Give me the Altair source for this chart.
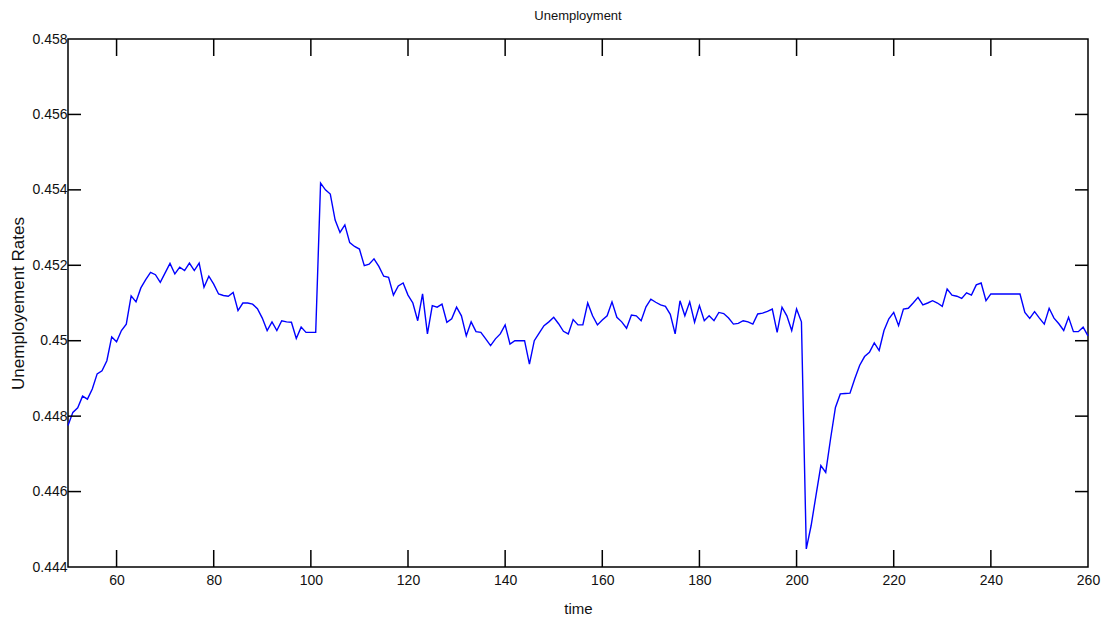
import altair as alt
import pandas as pd

# Simulated unemployment rate, one value per period
time = list(range(50, 261))
rate = [
    0.44775, 0.44810, 0.44822, 0.44853, 0.44845, 0.44872, 0.44912, 0.44920, 0.44947, 0.45010,  # 50-59
    0.44997, 0.45027, 0.45044, 0.45119, 0.45103, 0.45140, 0.45162, 0.45181, 0.45175, 0.45155,  # 60-69
    0.45180, 0.45205, 0.45177, 0.45195, 0.45186, 0.45206, 0.45186, 0.45206, 0.45142, 0.45171,  # 70-79
    0.45150, 0.45124, 0.45120, 0.45118, 0.45128, 0.45080, 0.45100, 0.45100, 0.45097, 0.45085,  # 80-89
    0.45060, 0.45027, 0.45050, 0.45027, 0.45053, 0.45050, 0.45049, 0.45006, 0.45036, 0.45022,  # 90-99
    0.45022, 0.45022, 0.45418, 0.45400, 0.45389, 0.45320, 0.45287, 0.45307, 0.45260, 0.45250,  # 100-109
    0.45243, 0.45199, 0.45203, 0.45217, 0.45197, 0.45171, 0.45168, 0.45121, 0.45145, 0.45153,  # 110-119
    0.45121, 0.45100, 0.45053, 0.45124, 0.45018, 0.45093, 0.45089, 0.45097, 0.45049, 0.45058,  # 120-129
    0.45089, 0.45066, 0.45013, 0.45050, 0.45024, 0.45022, 0.45005, 0.44987, 0.45005, 0.45018,  # 130-139
    0.45042, 0.44991, 0.45000, 0.45000, 0.45000, 0.44938, 0.45000, 0.45020, 0.45040, 0.45050,  # 140-149
    0.45062, 0.45045, 0.45025, 0.45018, 0.45056, 0.45042, 0.45042, 0.45100, 0.45066, 0.45042,  # 150-159
    0.45055, 0.45066, 0.45103, 0.45062, 0.45050, 0.45033, 0.45068, 0.45066, 0.45053, 0.45090,  # 160-169
    0.45110, 0.45102, 0.45095, 0.45091, 0.45070, 0.45018, 0.45106, 0.45066, 0.45103, 0.45049,  # 170-179
    0.45093, 0.45053, 0.45066, 0.45053, 0.45075, 0.45072, 0.45060, 0.45044, 0.45046, 0.45053,  # 180-189
    0.45050, 0.45044, 0.45071, 0.45073, 0.45078, 0.45084, 0.45022, 0.45089, 0.45066, 0.45027,  # 190-199
    0.45084, 0.45050, 0.44448, 0.44510, 0.44590, 0.44669, 0.44651, 0.44740, 0.44823, 0.44859,  # 200-209
    0.44860, 0.44861, 0.44900, 0.44935, 0.44958, 0.44969, 0.44994, 0.44974, 0.45027, 0.45058,  # 210-219
    0.45075, 0.45040, 0.45084, 0.45086, 0.45100, 0.45115, 0.45095, 0.45100, 0.45106, 0.45100,  # 220-229
    0.45091, 0.45137, 0.45121, 0.45118, 0.45112, 0.45127, 0.45121, 0.45148, 0.45153, 0.45106,  # 230-239
    0.45124, 0.45124, 0.45124, 0.45124, 0.45124, 0.45124, 0.45124, 0.45075, 0.45059, 0.45077,  # 240-249
    0.45060, 0.45044, 0.45086, 0.45060, 0.45045, 0.45027, 0.45062, 0.45024, 0.45024, 0.45036,  # 250-259
    0.45013,                                                                                    # 260
]

x_ticks = [60, 80, 100, 120, 140, 160, 180, 200, 220, 240, 260]
y_ticks = [0.444, 0.446, 0.448, 0.450, 0.452, 0.454, 0.456, 0.458]

W, H = 1020, 528
FONT = "Liberation Sans"

df = pd.DataFrame({"time": time, "rate": rate})
xt = pd.DataFrame({"t": x_ticks[:-1]})
yt = pd.DataFrame({"v": y_ticks[1:-1]})

x_scale = alt.Scale(domain=[50, 260], nice=False, zero=False)
y_scale = alt.Scale(domain=[0.444, 0.458], nice=False, zero=False)

line = alt.Chart(df).mark_line(color="#0000ff", strokeWidth=1.4).encode(
    x=alt.X("time:Q", scale=x_scale,
            axis=alt.Axis(values=x_ticks, title="time", grid=False, domain=False,
                          ticks=False, labelFlush=False, labelOverlap=False,
                          labelPadding=6, labelFontSize=14, titleFontSize=15,
                          titlePadding=14, titleFontWeight="normal",
                          labelFont=FONT, titleFont=FONT, labelColor="#111",
                          titleColor="#111")),
    y=alt.Y("rate:Q", scale=y_scale,
            axis=alt.Axis(values=y_ticks, title="Unemployement Rates", grid=False,
                          domain=False, ticks=False, labelFlush=False,
                          labelOverlap=False, labelExpr="format(datum.value, '.3~f')",
                          labelPadding=1, labelFontSize=14, titleFontSize=17,
                          titlePadding=4, titleFontWeight="normal",
                          labelFont=FONT, titleFont=FONT, labelColor="#111",
                          titleColor="#111")),
)

# inward tick marks on all four sides of the box
tick_color = "#000000"
x_bottom = alt.Chart(xt).mark_rule(color=tick_color, strokeWidth=1.5).encode(
    x=alt.X("t:Q", scale=x_scale), y=alt.value(H), y2=alt.value(H - 17))
x_top = alt.Chart(xt).mark_rule(color=tick_color, strokeWidth=1.5).encode(
    x=alt.X("t:Q", scale=x_scale), y=alt.value(0), y2=alt.value(17))
y_left = alt.Chart(yt).mark_rule(color=tick_color, strokeWidth=1.5).encode(
    y=alt.Y("v:Q", scale=y_scale), x=alt.value(0), x2=alt.value(13))
y_right = alt.Chart(yt).mark_rule(color=tick_color, strokeWidth=1.5).encode(
    y=alt.Y("v:Q", scale=y_scale), x=alt.value(W), x2=alt.value(W - 13))

chart = alt.layer(line, x_bottom, x_top, y_left, y_right).properties(
    width=W, height=H,
    title=alt.TitleParams("Unemployment", fontSize=13, font=FONT,
                          fontWeight="normal", offset=9, color="#111"),
    autosize=alt.AutoSizeParams(type="none"),
    padding={"left": 68, "top": 39, "right": 30, "bottom": 56},
    background="white",
).configure_view(stroke="#000000", strokeWidth=1.5)

chart.save("out.html", embed_options={"renderer": "svg", "actions": False})
